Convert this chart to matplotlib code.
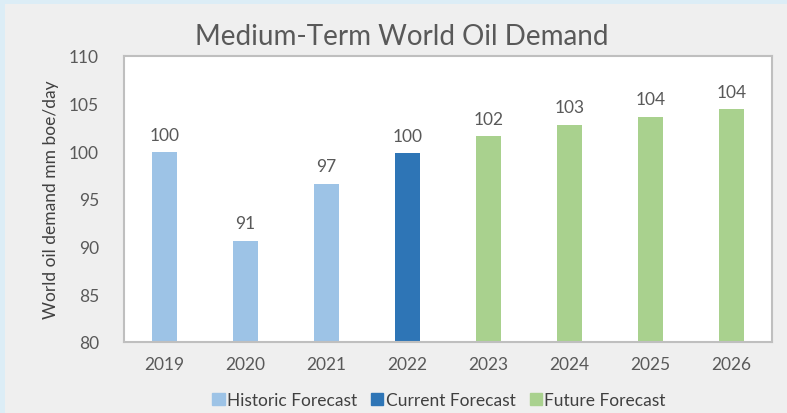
import numpy as np
import matplotlib.pyplot as plt
from matplotlib.patches import Rectangle, Patch

years = ["2019", "2020", "2021", "2022", "2023", "2024", "2025", "2026"]
demand = [99.9, 90.6, 96.6, 99.8, 101.6, 102.8, 103.6, 104.4]
labels = ["100", "91", "97", "100", "102", "103", "104", "104"]
groups = ["Historic Forecast", "Historic Forecast", "Historic Forecast", "Current Forecast",
          "Future Forecast", "Future Forecast", "Future Forecast", "Future Forecast"]
group_colors = {"Historic Forecast": "#9dc3e6",
                "Current Forecast": "#2e75b6",
                "Future Forecast": "#a9d18e"}

plt.rcParams['font.family'] = ['Lato', 'DejaVu Sans']
txt = "#595959"

fig = plt.figure(figsize=(7.87, 4.14), dpi=100, facecolor="#dcedf6")
# grey chart panel over the light blue frame
fig.patches.append(Rectangle((5 / 787, 0), 1, 1 - 5 / 414, transform=fig.transFigure,
                             facecolor="#efefef", edgecolor="none", zorder=-5))

ax = fig.add_axes([124 / 787, 1 - 343 / 414, 648 / 787, 286 / 414])
ax.set_facecolor("white")

x = np.arange(len(years))
cols = [group_colors[g] for g in groups]
ax.bar(x, [d - 80 for d in demand], bottom=80, width=0.31, color=cols, zorder=2)
for xi, d, lab in zip(x, demand, labels):
    ax.text(xi, d + 1.0, lab, ha="center", va="bottom", fontsize=12.5, color=txt)

ax.set_xlim(-0.5, len(years) - 0.5)
ax.set_ylim(80, 110)
ax.set_yticks(range(80, 111, 5))
ax.set_xticks(x)
ax.set_xticklabels(years)
ax.tick_params(length=0, labelsize=12.5, colors=txt)
ax.tick_params(axis="y", pad=18)
ax.tick_params(axis="x", pad=10)
for s in ax.spines.values():
    s.set_color("#bfbfbf")
    s.set_linewidth(1.5)

ax.set_ylabel("World oil demand mm boe/day", fontsize=12.5, color="#404040", labelpad=7)
fig.text(402 / 787, 1 - 37 / 414, "Medium-Term World Oil Demand", ha="center", va="center",
         fontsize=20, color=txt)

handles = [Patch(color=c, label=k) for k, c in group_colors.items()]
fig.legend(handles=handles, loc="center", bbox_to_anchor=(439 / 787, 1 - 401 / 414), ncol=3,
           frameon=False, fontsize=12.5, handlelength=0.7, handleheight=0.7,
           handletextpad=0.15, columnspacing=0.8, labelcolor="#404040")

fig.savefig("out.png", dpi=100, facecolor=fig.get_facecolor())
